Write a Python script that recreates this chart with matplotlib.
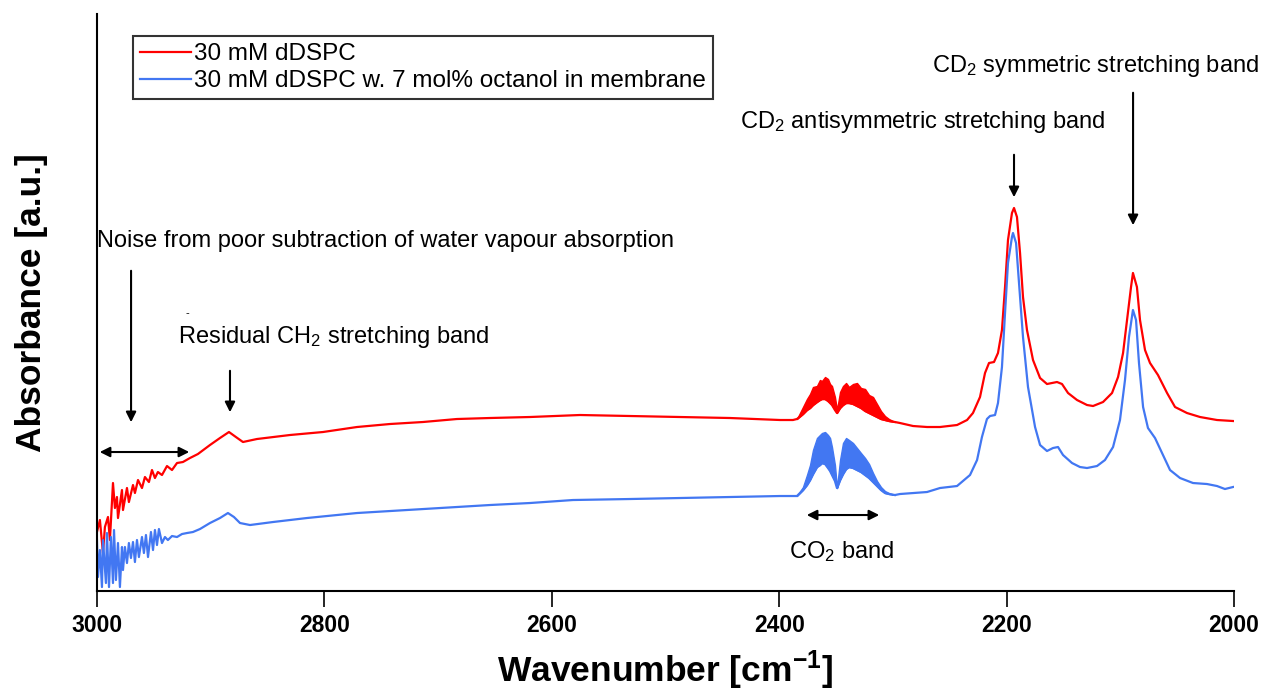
import matplotlib
matplotlib.use("Agg")
import matplotlib.pyplot as plt

plt.rcParams['font.family'] = ['Liberation Sans', 'DejaVu Sans']
plt.rcParams['mathtext.fontset'] = 'custom'
plt.rcParams['mathtext.rm'] = 'Liberation Sans'
plt.rcParams['mathtext.it'] = 'Liberation Sans:italic'
plt.rcParams['mathtext.bf'] = 'Liberation Sans:bold'

# FTIR spectra, wavenumber in cm^-1, absorbance in arbitrary units
wn_dspc = [
    3000.0, 2997.4, 2994.7, 2993.0, 2990.3, 2988.6, 2985.9, 2984.2, 2982.4, 2981.5,
    2978.0, 2977.1, 2973.6, 2971.9, 2968.3, 2966.6, 2963.9, 2960.4, 2957.8, 2954.3,
    2951.6, 2949.0, 2946.4, 2942.8, 2938.4, 2934.0, 2929.6, 2924.4, 2918.2, 2911.2,
    2900.6, 2891.8, 2883.9, 2877.8, 2871.6, 2859.3, 2830.3, 2801.2, 2771.3, 2742.3,
    2713.3, 2683.4, 2654.4, 2619.2, 2575.2, 2531.2, 2487.3, 2443.3, 2399.3, 2387.9,
    2293.8, 2282.3, 2270.0, 2258.6, 2243.6, 2234.8, 2229.6, 2223.4, 2219.0, 2215.5,
    2211.1, 2207.6, 2204.1, 2201.4, 2198.8, 2195.3, 2193.5, 2190.9, 2188.2, 2185.6,
    2182.1, 2176.8, 2170.6, 2164.5, 2155.7, 2151.3, 2146.0, 2138.1, 2129.3, 2124.0,
    2115.2, 2107.3, 2102.0, 2097.6, 2094.1, 2090.6, 2088.9, 2085.4, 2082.7, 2078.3,
    2073.9, 2066.9, 2058.9, 2051.9, 2041.4, 2029.9, 2015.0, 2000.9,
]
abs_dspc = [
    0.59, 0.71, 0.38, 0.64, 0.74, 0.51, 1.08, 0.83, 0.94, 0.73,
    1.01, 0.81, 1.03, 0.89, 1.06, 0.98, 1.11, 1.03, 1.14, 1.09,
    1.21, 1.13, 1.19, 1.16, 1.25, 1.21, 1.28, 1.29, 1.33, 1.37,
    1.46, 1.53, 1.59, 1.54, 1.49, 1.52, 1.56, 1.59, 1.64, 1.67,
    1.69, 1.72, 1.73, 1.74, 1.76, 1.75, 1.74, 1.73, 1.71, 1.71,
    1.68, 1.65, 1.64, 1.64, 1.66, 1.71, 1.78, 1.94, 2.18, 2.28,
    2.29, 2.38, 2.61, 3.04, 3.51, 3.78, 3.83, 3.74, 3.38, 2.94,
    2.61, 2.31, 2.13, 2.07, 2.09, 2.07, 1.98, 1.91, 1.86, 1.85,
    1.89, 1.98, 2.14, 2.38, 2.71, 3.04, 3.18, 3.04, 2.71, 2.41,
    2.28, 2.16, 1.98, 1.84, 1.78, 1.74, 1.71, 1.70,
]

wn_octanol = [
    3000.0, 2999.1, 2997.4, 2995.6, 2994.7, 2992.1, 2991.2, 2989.4, 2987.7, 2985.9,
    2985.0, 2983.3, 2981.5, 2979.8, 2978.0, 2977.1, 2975.4, 2973.6, 2971.9, 2970.1,
    2968.3, 2966.6, 2964.8, 2963.1, 2960.4, 2958.7, 2956.9, 2955.1, 2952.5, 2950.7,
    2949.0, 2947.2, 2945.5, 2942.8, 2940.2, 2937.6, 2934.0, 2929.6, 2925.2, 2920.8,
    2915.6, 2909.4, 2900.6, 2891.8, 2884.8, 2879.5, 2874.2, 2865.4, 2845.2, 2815.3,
    2771.3, 2727.4, 2683.4, 2654.4, 2619.2, 2581.4, 2531.2, 2487.3, 2443.3, 2399.3,
    2387.9, 2293.8, 2282.3, 2270.0, 2258.6, 2243.6, 2232.2, 2226.0, 2221.7, 2217.3,
    2214.6, 2210.2, 2207.6, 2204.1, 2201.4, 2198.8, 2195.3, 2194.4, 2191.7, 2189.1,
    2185.6, 2181.2, 2175.0, 2170.6, 2164.5, 2159.2, 2154.8, 2150.4, 2142.5, 2135.5,
    2129.3, 2120.5, 2113.5, 2106.4, 2100.3, 2095.9, 2092.4, 2088.9, 2086.2, 2083.6,
    2080.0, 2075.7, 2069.5, 2063.3, 2056.3, 2047.5, 2036.1, 2023.8, 2015.0, 2008.0,
    2000.9,
]
abs_octanol = [
    0.51, 0.14, 0.41, 0.04, 0.51, 0.08, 0.58, 0.04, 0.54, 0.08,
    0.61, 0.11, 0.48, 0.04, 0.44, 0.21, 0.44, 0.28, 0.48, 0.33,
    0.49, 0.29, 0.51, 0.34, 0.54, 0.38, 0.56, 0.34, 0.59, 0.41,
    0.61, 0.46, 0.62, 0.48, 0.54, 0.51, 0.55, 0.54, 0.57, 0.58,
    0.59, 0.62, 0.68, 0.73, 0.78, 0.74, 0.68, 0.66, 0.69, 0.73,
    0.78, 0.81, 0.84, 0.86, 0.88, 0.91, 0.92, 0.93, 0.94, 0.95,
    0.95, 0.97, 0.98, 0.99, 1.03, 1.05, 1.16, 1.31, 1.54, 1.72,
    1.75, 1.76, 1.88, 2.24, 2.78, 3.28, 3.54, 3.58, 3.48, 3.08,
    2.54, 2.04, 1.64, 1.46, 1.40, 1.43, 1.44, 1.36, 1.28, 1.24,
    1.23, 1.25, 1.31, 1.44, 1.71, 2.11, 2.54, 2.81, 2.71, 2.28,
    1.84, 1.63, 1.53, 1.38, 1.21, 1.13, 1.08, 1.07, 1.05, 1.02,
    1.04,
]

# CO2 gas-phase band: rotational lines give a filled band between two envelopes
wn_co2 = [
    2384.4, 2379.1, 2375.6, 2372.9, 2370.3, 2366.8, 2364.2, 2362.4, 2359.7, 2357.1,
    2355.3, 2353.6, 2351.0, 2349.2, 2346.5, 2343.9, 2341.2, 2338.6, 2335.1, 2331.6,
    2328.1, 2324.5, 2321.0, 2317.5, 2314.0, 2310.5, 2307.0, 2303.5, 2298.2,
]
dspc_co2_hi = [
    1.72, 1.84, 1.92, 1.97, 2.04, 2.05, 2.11, 2.10, 2.14, 2.12,
    2.07, 2.05, 1.94, 1.81, 1.99, 2.05, 2.08, 2.04, 2.07, 2.08,
    2.03, 2.02, 1.96, 1.94, 1.87, 1.80, 1.75, 1.72, 1.69,
]
dspc_co2_lo = [
    1.72, 1.77, 1.81, 1.83, 1.86, 1.89, 1.91, 1.92, 1.92, 1.90,
    1.88, 1.86, 1.81, 1.78, 1.83, 1.86, 1.88, 1.88, 1.87, 1.85,
    1.83, 1.80, 1.78, 1.76, 1.74, 1.72, 1.71, 1.70, 1.69,
]
octanol_co2_hi = [
    0.95, 1.04, 1.16, 1.26, 1.41, 1.53, 1.56, 1.58, 1.59, 1.56,
    1.53, 1.44, 1.26, 1.03, 1.31, 1.48, 1.53, 1.51, 1.48, 1.43,
    1.38, 1.33, 1.27, 1.18, 1.10, 1.04, 1.00, 0.98, 0.96,
]
octanol_co2_lo = [
    0.95, 1.01, 1.06, 1.11, 1.17, 1.24, 1.26, 1.28, 1.27, 1.23,
    1.20, 1.16, 1.10, 1.03, 1.11, 1.17, 1.22, 1.24, 1.23, 1.21,
    1.19, 1.16, 1.13, 1.09, 1.05, 1.01, 0.98, 0.97, 0.96,
]

labels = ["30 mM dDSPC", "30 mM dDSPC w. 7 mol% octanol in membrane"]
red = "#ff0000"
blue = "#4277f2"

fig = plt.figure(figsize=(12.64, 6.95), dpi=100)
ax = fig.add_axes([0.0767, 0.1496, 0.8996, 0.8303])

# splice the CO2 band lower envelope into each trace
def merged(wn, ab, wn_band, lo):
    pts = [(w, a) for w, a in zip(wn, ab)] + list(zip(wn_band, lo))
    pts.sort(key=lambda p: -p[0])
    return [p[0] for p in pts], [p[1] for p in pts]

x1, y1 = merged(wn_dspc, abs_dspc, wn_co2, dspc_co2_lo)
x2, y2 = merged(wn_octanol, abs_octanol, wn_co2, octanol_co2_lo)
ax.plot(x1, y1, color=red, lw=1.6, label=labels[0])
ax.plot(x2, y2, color=blue, lw=1.6, label=labels[1])
ax.fill_between(wn_co2, dspc_co2_lo, dspc_co2_hi, color=red, lw=1.0, edgecolor=red)
ax.fill_between(wn_co2, octanol_co2_lo, octanol_co2_hi, color=blue, lw=1.0, edgecolor=blue)

ax.set_xlim(3000, 2000)
ax.set_ylim(0, 5.77)
ax.set_xticks([3000, 2800, 2600, 2400, 2200, 2000])
ax.set_yticks([])
for s in ["top", "right"]:
    ax.spines[s].set_visible(False)
for s in ["left", "bottom"]:
    ax.spines[s].set_linewidth(1.5)
ax.tick_params(axis="x", direction="out", length=11.5, width=1.2, pad=5, labelsize=16.5)
for t in ax.get_xticklabels():
    t.set_fontweight("bold")

ax.set_xlabel(r"Wavenumber [cm$^{\mathbf{-1}}$]", fontsize=25.5, fontweight="bold", labelpad=8)
ax.set_ylabel("Absorbance [a.u.]", fontsize=25.5, fontweight="bold", labelpad=35)

leg = ax.legend(loc="upper left", bbox_to_anchor=(133 / 1264, 1 - 36 / 695),
                bbox_transform=fig.transFigure, fontsize=17.5, frameon=True,
                fancybox=False, handlelength=2.1, handletextpad=0.1,
                borderpad=0.3, labelspacing=0.2, borderaxespad=0)
leg.get_frame().set_edgecolor("black")
leg.get_frame().set_linewidth(1.5)

arrow = dict(arrowstyle="-|>", color="black", lw=1.5, mutation_scale=15)
both = dict(arrowstyle="<|-|>", color="black", lw=1.5, mutation_scale=15)
fs = 17

ax.text(3000, 3.50, "Noise from poor subtraction of water vapour absorption",
        fontsize=fs, ha="left", va="center")
ax.annotate("", xy=(2970, 1.66), xytext=(2970, 3.23), arrowprops=arrow)
ax.annotate("", xy=(2916.4, 1.39), xytext=(3000, 1.39), arrowprops=both)

ax.text(2928.8, 2.54, r"Residual CH$_2$ stretching band", fontsize=fs, ha="left", va="center")
ax.text(2920.8, 2.78, "-", fontsize=8, ha="center", va="center")
ax.annotate("", xy=(2883, 1.76), xytext=(2883, 2.23), arrowprops=arrow)

ax.annotate("", xy=(2309.6, 0.76), xytext=(2378.2, 0.76), arrowprops=both)
ax.text(2344.8, 0.39, r"CO$_2$ band", fontsize=fs, ha="center", va="center")

ax.text(2273.5, 4.69, r"CD$_2$ antisymmetric stretching band", fontsize=fs, ha="center", va="center")
ax.annotate("", xy=(2193.5, 3.91), xytext=(2193.5, 4.39), arrowprops=arrow)

ax.text(2122.2, 5.25, r"CD$_2$ symmetric stretching band", fontsize=fs, ha="center", va="center")
ax.annotate("", xy=(2088.8, 3.63), xytext=(2088.8, 5.01), arrowprops=arrow)

fig.savefig("out.png", dpi=100)
